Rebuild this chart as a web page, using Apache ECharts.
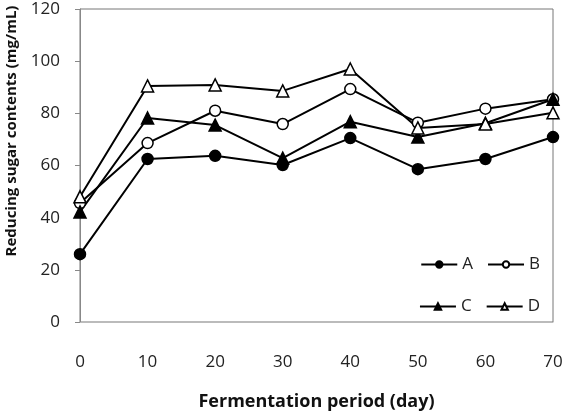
<!DOCTYPE html>
<html lang="en">
<head>
    <meta charset="UTF-8">
    <title>Reducing sugar contents</title>
    <script src="https://cdn.jsdelivr.net/npm/echarts@6/dist/echarts.min.js"></script>
    <style>
        html, body, #main {
            width: 569px;
            height: 414px;
            padding: 0;
            margin: 0;
            background: #fff;
        }
    </style>
</head>
<body>
<div id="main"></div>
<script>
    var days = [0, 10, 20, 30, 40, 50, 60, 70];
    var seriesA = [26, 62.5, 63.7, 60.2, 70.5, 58.6, 62.5, 70.9];
    var seriesB = [45.6, 68.6, 81, 75.9, 89.3, 76.4, 81.8, 85.4];
    var seriesC = [42.2, 78.2, 75.5, 62.8, 76.8, 70.9, 76.2, 85.4];
    var seriesD = [48, 90.5, 90.9, 88.6, 97, 74.4, 75.9, 80.2];

    function pairs(vals) {
        return days.map(function (d, i) {
            return [d, vals[i]];
        });
    }

    var font = "'Open Sans', 'Noto Sans', sans-serif";

    function makeSeries(name, vals, symbol, filled) {
        return {
            name: name,
            type: "line",
            data: pairs(vals),
            symbol: symbol,
            symbolSize: symbol === "circle" ? 11 : 12,
            lineStyle: {color: "#000", width: 2},
            itemStyle: {
                color: filled ? "#000" : "#fff",
                borderColor: "#000",
                borderWidth: 1.5
            },
            emphasis: {disabled: true},
            animation: false
        };
    }

    var legendBase = {
        right: 24,
        itemWidth: 36,
        itemHeight: 8,
        itemGap: 14,
        textStyle: {fontFamily: font, fontSize: 17, color: "#222"}
    };

    var myChart = echarts.init(document.getElementById("main"));
    myChart.setOption({
        backgroundColor: "#fff",
        grid: {
            left: 80,
            right: 16,
            top: 9,
            bottom: 92,
            outerBoundsMode: "none",
            show: true,
            borderColor: "#777",
            borderWidth: 1
        },
        // y title sits higher than the plot centre in the original
        graphic: [{
            type: "text",
            x: 12,
            y: 131,
            rotation: Math.PI / 2,
            style: {
                text: "Reducing sugar contents (mg/mL)",
                fontFamily: font,
                fontSize: 15,
                fontWeight: "bold",
                fill: "#111",
                align: "center",
                verticalAlign: "middle"
            }
        }],
        legend: [
            Object.assign({}, legendBase, {top: 251, data: ["A", "B"]}),
            Object.assign({}, legendBase, {top: 293, data: ["C", "D"]})
        ],
        xAxis: {
            type: "value",
            min: 0,
            max: 70,
            interval: 10,
            name: "Fermentation period (day)",
            nameLocation: "middle",
            nameGap: 71,
            nameTextStyle: {fontFamily: font, fontSize: 18, fontWeight: "bold", color: "#111"},
            axisLine: {show: true, lineStyle: {color: "#bbb"}},
            axisTick: {show: false},
            splitLine: {show: false},
            axisLabel: {margin: 32, fontFamily: font, fontSize: 17, color: "#222"}
        },
        yAxis: {
            type: "value",
            min: 0,
            max: 120,
            interval: 20,
            axisLine: {show: true, lineStyle: {color: "#888"}},
            axisTick: {show: true, inside: false, length: 5, lineStyle: {color: "#888"}},
            splitLine: {show: false},
            axisLabel: {margin: 20, fontFamily: font, fontSize: 17, color: "#222"}
        },
        series: [
            makeSeries("A", seriesA, "circle", true),
            makeSeries("B", seriesB, "circle", false),
            makeSeries("C", seriesC, "triangle", true),
            makeSeries("D", seriesD, "triangle", false)
        ]
    });
</script>
</body>
</html>
